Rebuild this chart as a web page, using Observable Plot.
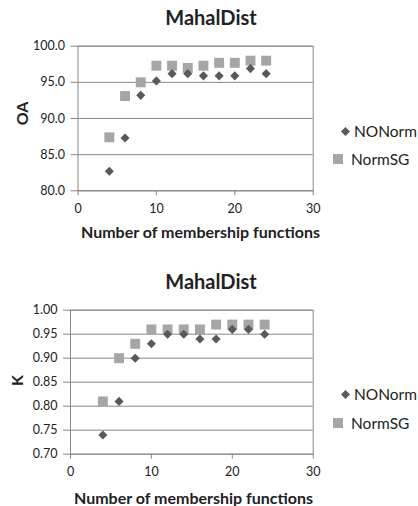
<!DOCTYPE html>
<html>
<head>
<meta charset="utf-8">
<script src="https://cdn.jsdelivr.net/npm/d3@7"></script>
<script src="https://cdn.jsdelivr.net/npm/@observablehq/plot@0.6"></script>
<style>
  html, body { margin: 0; padding: 0; background: #fff; }
  #wrap { position: relative; width: 418px; height: 506px; font-family: Lato, "Open Sans", sans-serif; color: #222; }
  .chart { position: absolute; left: 0; }
  .title { position: absolute; width: 418px; text-align: center; font-weight: bold; font-size: 20px; line-height: 24px; }
  .ylab { position: absolute; font-weight: bold; font-size: 16px; line-height: 19px; transform: rotate(-90deg); transform-origin: center; }
  .xlab { position: absolute; font-weight: bold; font-size: 16px; line-height: 19px; white-space: nowrap; }
  .leg { position: absolute; font-size: 15.5px; line-height: 19px; white-space: nowrap; display: flex; align-items: center; }
  svg text { fill: #222; }
</style>
</head>
<body>
<div id="wrap"></div>
<script>
const xs = [4, 6, 8, 10, 12, 14, 16, 18, 20, 22, 24];
const oaNONorm = [82.7, 87.3, 93.2, 95.2, 96.2, 96.2, 95.9, 95.9, 95.9, 96.9, 96.2];
const oaNormSG = [87.4, 93.1, 95.0, 97.3, 97.3, 97.0, 97.3, 97.7, 97.7, 98.0, 98.0];
const kNONorm = [0.74, 0.81, 0.90, 0.93, 0.95, 0.95, 0.94, 0.94, 0.96, 0.96, 0.95];
const kNormSG = [0.81, 0.90, 0.93, 0.96, 0.96, 0.96, 0.96, 0.97, 0.97, 0.97, 0.97];
const seriesNames = ["NONorm", "NormSG"];
const xTicks = [0, 10, 20, 30];
const oaTicks = [80, 85, 90, 95, 100];
const kTicks = [0.70, 0.75, 0.80, 0.85, 0.90, 0.95, 1.00];
const chartTitle = "MahalDist";
const xTitle = "Number of membership functions";

const grid = "#878787";
const darkCol = "#595959";
const lightCol = "#a6a6a6";

function makeChart(a, b, yDomain, yTicks, fmt, m) {
  const A = xs.map((x, i) => ({x, y: a[i]}));
  const B = xs.map((x, i) => ({x, y: b[i]}));
  return Plot.plot({
    width: 418, height: 253,
    marginLeft: m.left, marginRight: m.right, marginTop: m.top, marginBottom: m.bottom,
    style: {fontFamily: "Lato, 'Open Sans', sans-serif", fontSize: "12.5px", color: "#222", background: "white"},
    x: {domain: [0, 30]},
    y: {domain: yDomain},
    marks: [
      Plot.gridY(yTicks, {stroke: grid, strokeOpacity: 1}),
      Plot.frame({stroke: grid}),
      Plot.axisY(yTicks, {tickFormat: fmt, tickSize: 7, tickPadding: 6, stroke: grid, label: null, fontSize: 12.5}),
      Plot.axisX(xTicks, {tickSize: 5, tickPadding: 8, stroke: grid, label: null, fontSize: 12.5}),
      Plot.dot(B, {x: "x", y: "y", symbol: "square", r: 5.6, fill: lightCol, stroke: "none"}),
      Plot.dot(A, {x: "x", y: "y", symbol: "diamond2", r: 4.1, fill: darkCol, stroke: "none"})
    ]
  });
}

const wrap = document.getElementById("wrap");

function addEl(cls, text, css) {
  const d = document.createElement("div");
  d.className = cls;
  if (text != null) d.textContent = text;
  Object.assign(d.style, css);
  wrap.appendChild(d);
  return d;
}

function legendItem(name, isSquare, left, top) {
  const d = addEl("leg", null, {left: left + "px", top: top + "px"});
  const ns = "http://www.w3.org/2000/svg";
  const s = document.createElementNS(ns, "svg");
  let sh;
  if (isSquare) {
    s.setAttribute("width", 10); s.setAttribute("height", 10);
    s.style.marginRight = "8px";
    sh = document.createElementNS(ns, "rect");
    sh.setAttribute("x", 0); sh.setAttribute("y", 0); sh.setAttribute("width", 10); sh.setAttribute("height", 10);
    sh.setAttribute("fill", lightCol);
  } else {
    s.setAttribute("width", 9); s.setAttribute("height", 9);
    s.style.marginRight = "4px";
    sh = document.createElementNS(ns, "path");
    sh.setAttribute("d", "M4.5,0L9,4.5L4.5,9L0,4.5Z");
    sh.setAttribute("fill", darkCol);
  }
  s.appendChild(sh);
  d.appendChild(s);
  const t = document.createElement("span");
  t.textContent = name;
  d.appendChild(t);
}

// Top chart
const c1 = makeChart(oaNONorm, oaNormSG, [80, 100], oaTicks, d3.format(".1f"),
  {left: 77.5, right: 105.3, top: 45.7, bottom: 62.7});
c1.classList.add("chart"); c1.style.top = "0px";
wrap.appendChild(c1);
addEl("title", chartTitle, {left: "2px", top: "5px"});
addEl("ylab", "OA", {left: "10px", top: "104px"});
addEl("xlab", xTitle, {left: "81px", top: "222px"});
legendItem(seriesNames[0], false, 341, 121.5);
legendItem(seriesNames[1], true, 333, 149.5);

// Bottom chart
const c2 = makeChart(kNONorm, kNormSG, [0.70, 1.00], kTicks, d3.format(".2f"),
  {left: 70, right: 105.3, top: 56.7, bottom: 52.3});
c2.classList.add("chart"); c2.style.top = "253px";
wrap.appendChild(c2);
addEl("title", chartTitle, {left: "2px", top: "269px"});
addEl("ylab", "K", {left: "11px", top: "371px"});
addEl("xlab", xTitle, {left: "74px", top: "488px"});
legendItem(seriesNames[0], false, 341, 384.5);
legendItem(seriesNames[1], true, 333, 413.5);
</script>
</body>
</html>
